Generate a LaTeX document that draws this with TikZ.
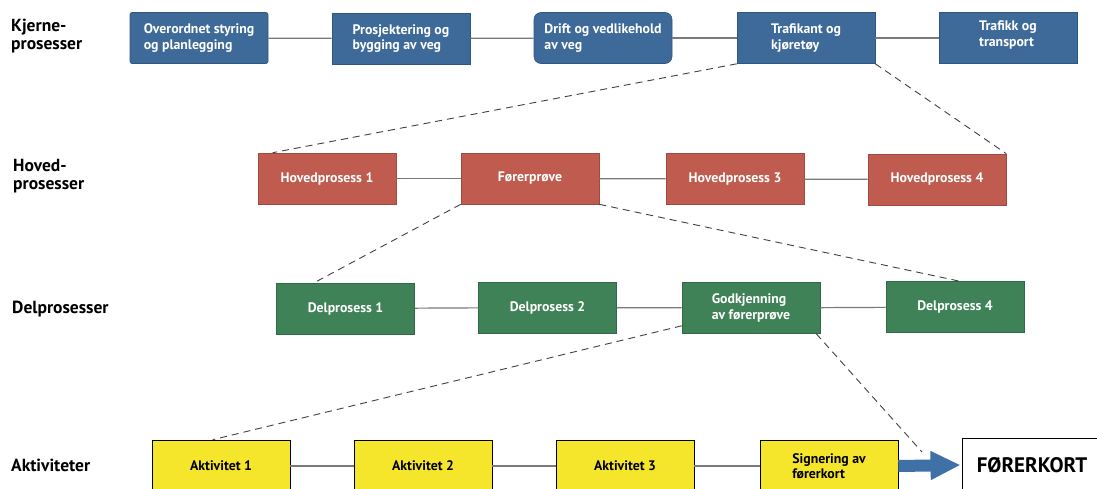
\documentclass[tikz,border=0pt]{standalone}
\usepackage{fontspec}
\setmainfont{PT Sans}
\usetikzlibrary{arrows.meta}

\definecolor{kblue}{HTML}{3D6A98}
\definecolor{kblueedge}{HTML}{2F5680}
\definecolor{hred}{HTML}{C05C4F}
\definecolor{hrededge}{HTML}{9E4A40}
\definecolor{dgreen}{HTML}{3F8257}
\definecolor{dgreenedge}{HTML}{316845}
\definecolor{ayellow}{HTML}{F5E62B}
\definecolor{arrowblue}{HTML}{3F70A6}
\definecolor{linkgray}{HTML}{7A7A7A}
\definecolor{dashgray}{HTML}{404040}

\newcommand{\boxfont}{\fontsize{13.8}{15.5}\selectfont\bfseries}
\newcommand{\rowfont}{\fontsize{17.5}{18}\selectfont\bfseries}

\begin{document}
\begin{tikzpicture}[x=1pt,y=-1pt,
  procbox/.style={minimum width=138pt, minimum height=51pt, inner sep=0pt,
    font=\boxfont, align=left, line width=0.6pt},
  kbox/.style={procbox, fill=kblue, draw=kblueedge, text=white},
  hbox/.style={procbox, fill=hred, draw=hrededge, text=white},
  dbox/.style={procbox, fill=dgreen, draw=dgreenedge, text=white},
  abox/.style={procbox, fill=ayellow, draw=black, text=black, minimum height=52pt},
  rowlabel/.style={font=\rowfont, align=left, inner sep=0pt},
  link/.style={draw=linkgray, line width=1.2pt},
  zoomline/.style={draw=dashgray, line width=0.9pt, dash pattern=on 7pt off 5pt}
]
\useasboundingbox (0,0) rectangle (1097,488);

% row labels
\node[rowlabel, anchor=west] (lk) at (11,36) {Kjerne-\\prosesser};
\node[rowlabel, anchor=west] (lh) at (13,176) {Hoved-\\prosesser};
\node[rowlabel, anchor=base west] (ld) at (12,313) {Delprosesser};
\node[rowlabel, anchor=base west] (la) at (11,471) {Aktiviteter};

% core processes
\node[kbox, rounded corners=2pt] (k1) at (199,38) {Overordnet styring\\og planlegging};
\node[kbox] (k2) at (401,38.5) {Prosjektering og\\bygging av veg};
\node[kbox, rounded corners=7pt] (k3) at (603,38) {Drift og vedlikehold\\av veg};
\node[kbox] (k4) at (806,38) {Trafikant og\\kjøretøy};
\node[kbox] (k5) at (1008,38) {};
\node[font=\boxfont, align=left, text=white, inner sep=0pt] (k5t) at (1008,35) {Trafikk og\\transport};

% main processes
\node[hbox] (h1) at (327,178.5) {Hovedprosess 1};
\node[hbox] (h2) at (530,178.5) {Førerprøve};
\node[hbox] (h3) at (735,179) {Hovedprosess 3};
\node[hbox] (h4) at (937,179.5) {Hovedprosess 4};

% sub-processes
\node[dbox] (d1) at (345.5,308.5) {Delprosess 1};
\node[dbox] (d2) at (547.5,307.5) {Delprosess 2};
\node[dbox] (d3) at (751,308) {Godkjenning\\av førerprøve};
\node[dbox] (d4) at (955,307) {Delprosess 4};

% activities
\node[abox] (a1) at (221,466) {Aktivitet 1};
\node[abox] (a2) at (423,466) {Aktivitet 2};
\node[abox] (a3) at (625,466) {Aktivitet 3};
\node[abox] (a4) at (829,466) {Signering av\\førerkort};
\node[draw=black, fill=white, line width=0.9pt, minimum width=140pt, minimum height=54pt,
      inner sep=0pt, font=\fontsize{21}{24}\selectfont\bfseries] (fk) at (1032,465) {FØRERKORT};

% links within each level
\foreach \a/\b in {k1/k2,k2/k3,k3/k4,k4/k5,h1/h2,h2/h3,h3/h4,d1/d2,d2/d3,d3/d4,a1/a2,a2/a3,a3/a4}
  \draw[link] (\a) -- (\b);

% breakdown from one level to the next
\coordinate (dend) at (922,452);
\draw[zoomline] (k4.south west) -- ([xshift=15pt]h1.north west);
\draw[zoomline] (k4.south east) -- (h4.north east);
\draw[zoomline] (h2.south west) -- ([xshift=38pt]d1.north west);
\draw[zoomline] (h2.south east) -- ([xshift=74pt]d4.north west);
\draw[zoomline] ([yshift=8pt]d3.south west) -- ([xshift=61pt]a1.north west);
\draw[zoomline] ([xshift=-4pt]d3.south east) -- (dend);

% result arrow
\draw[draw=arrowblue, line width=12pt, -{Triangle[length=30pt,width=27pt]}, shorten >=1pt]
  (a4.east) -- (fk.west);
\end{tikzpicture}
\end{document}
